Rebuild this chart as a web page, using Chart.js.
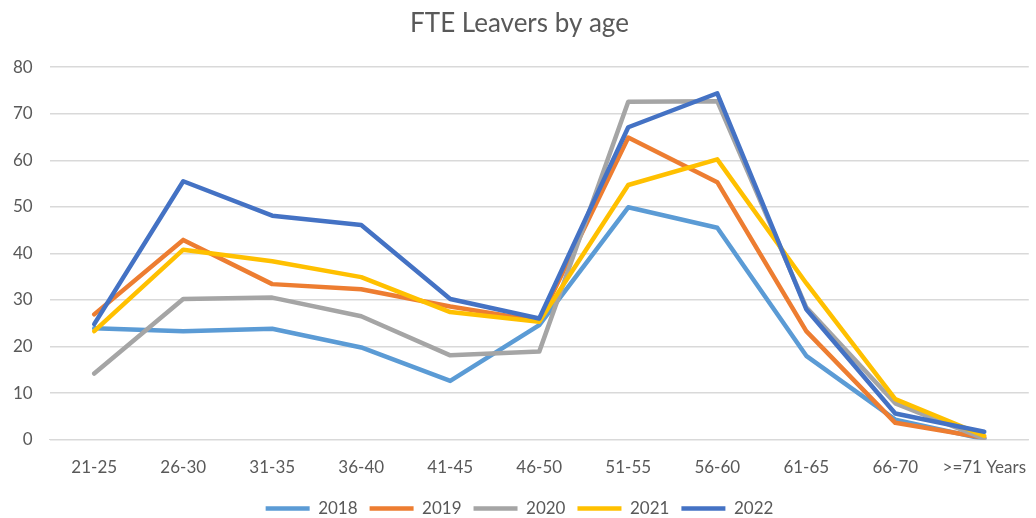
<!DOCTYPE html>
<html>
<head>
<meta charset="utf-8">
<script src="https://cdn.jsdelivr.net/npm/chart.js@4"></script>
<style>
  body { margin: 0; background: #fff; }
  #wrap { width: 1036px; height: 518px; }
</style>
</head>
<body>
<div id="wrap"><canvas id="chart" width="1036" height="518"></canvas></div>
<script>
const ageBands = ["21-25", "26-30", "31-35", "36-40", "41-45", "46-50", "51-55", "56-60", "61-65", "66-70", ">=71 Years"];
const years = ["2018", "2019", "2020", "2021", "2022"];

const leavers2018 = [23.9, 23.3, 23.8, 19.8, 12.6, 24.6, 49.9, 45.5, 18.0, 4.3, 0.1];
const leavers2019 = [26.9, 42.9, 33.4, 32.3, 28.6, 25.5, 64.9, 55.3, 23.3, 3.6, 0.4];
const leavers2020 = [14.2, 30.2, 30.5, 26.5, 18.1, 18.9, 72.6, 72.7, 28.4, 7.8, 0.2];
const leavers2021 = [23.3, 40.8, 38.3, 34.9, 27.4, 25.3, 54.7, 60.2, 33.6, 8.7, 0.8];
const leavers2022 = [24.8, 55.5, 48.1, 46.1, 30.2, 26.0, 67.1, 74.4, 28.0, 5.6, 1.7];

const yTicks = { min: 0, max: 80, step: 10 };

const allSeries = [leavers2018, leavers2019, leavers2020, leavers2021, leavers2022];
const colours = ["#5B9BD5", "#ED7D31", "#A5A5A5", "#FFC000", "#4472C4"];

const textColour = "#595959";
const fontFamily = "Lato, 'Liberation Sans', sans-serif";

const datasets = years.map((yr, i) => ({
  label: yr,
  data: allSeries[i],
  borderColor: colours[i],
  backgroundColor: colours[i],
  borderWidth: 4.5,
  pointRadius: 0,
  pointHoverRadius: 0,
  tension: 0,
  borderJoinStyle: "round",
  borderCapStyle: "round",
  order: years.length - i   // later years drawn on top
}));

new Chart(document.getElementById("chart"), {
  type: "line",
  data: { labels: ageBands, datasets: datasets },
  options: {
    responsive: false,
    animation: false,
    layout: { padding: { left: -4, right: -7, top: 7, bottom: -9 } },
    plugins: {
      title: {
        display: true,
        text: "FTE Leavers by age",
        color: textColour,
        font: { family: fontFamily, size: 26, weight: "normal" },
        padding: { top: 1, bottom: 28 }
      },
      legend: {
        position: "bottom",
        labels: {
          color: textColour,
          font: { family: fontFamily, size: 17 },
          usePointStyle: true,
          pointStyle: "line",
          pointStyleWidth: 44,
          boxHeight: 17,
          padding: 12,
          sort: (a, b) => a.text.localeCompare(b.text)
        }
      },
      tooltip: { enabled: false }
    },
    scales: {
      x: {
        offset: true,
        grid: { display: false },
        border: { color: "#D9D9D9" },
        ticks: {
          color: textColour,
          font: { family: fontFamily, size: 17 },
          maxRotation: 0,
          padding: 10
        }
      },
      y: {
        min: yTicks.min,
        max: yTicks.max,
        grid: { color: "#D9D9D9", lineWidth: 1.5, drawTicks: false },
        border: { display: false },
        ticks: {
          stepSize: yTicks.step,
          color: textColour,
          font: { family: fontFamily, size: 17 },
          padding: 17
        }
      }
    }
  }
});
</script>
</body>
</html>
